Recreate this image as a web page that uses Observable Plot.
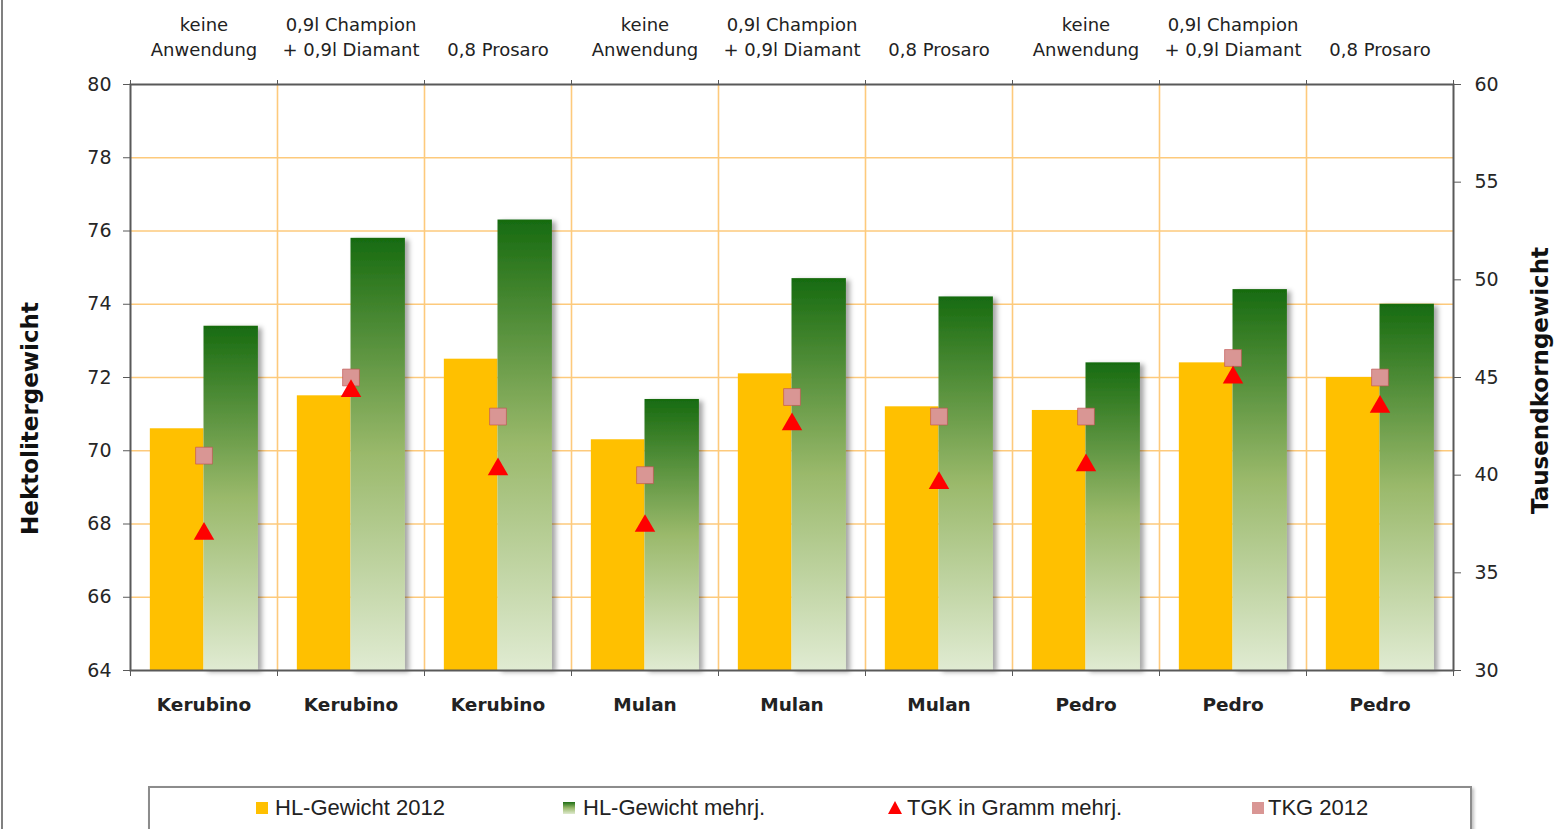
<!DOCTYPE html>
<html>
<head>
<meta charset="utf-8">
<script src="https://cdn.jsdelivr.net/npm/d3@7"></script>
<script src="https://cdn.jsdelivr.net/npm/@observablehq/plot@0.6"></script>
<style>
  html, body { margin: 0; padding: 0; background: #fff; }
  body { width: 1556px; height: 829px; overflow: hidden; position: relative; }
  #outer { position: absolute; left: 1px; top: 0; width: 2px; height: 829px; background: #808080; }
  #chart { position: absolute; left: 0; top: 0; }
  #legend { position: absolute; left: 148px; top: 786px; width: 1320px; height: 60px;
            border: 2px solid #8c8c8c; box-shadow: 2px 2px 3px rgba(0,0,0,0.25); background: #fff; }
  .item { position: absolute; top: 796px; height: 24px; line-height: 24px;
          font-family: "Liberation Sans", sans-serif; font-size: 22px; color: #222; white-space: nowrap; }
  .sw { position: absolute; top: 802px; width: 12px; height: 12px; }
</style>
</head>
<body>
<div id="outer"></div>
<div id="chart"></div>
<div id="legend"></div>
<div class="sw" style="left:256px;background:#ffc000"></div>
<div class="item" style="left:275px">HL-Gewicht 2012</div>
<div class="sw" style="left:563px;background:linear-gradient(#1e6e14,#9ab96b,#dfeacf)"></div>
<div class="item" style="left:583px">HL-Gewicht mehrj.</div>
<svg class="sw" style="left:888px;width:14px;height:13px;top:801px" viewBox="0 0 14 13"><polygon points="7,0 14,13 0,13" fill="#ff0000"/></svg>
<div class="item" style="left:907px">TGK in Gramm mehrj.</div>
<div class="sw" style="left:1252px;background:#d99694"></div>
<div class="item" style="left:1268px">TKG 2012</div>
<script>
// ---- data ----
const cultivars = ["Kerubino", "Kerubino", "Kerubino", "Mulan", "Mulan", "Mulan", "Pedro", "Pedro", "Pedro"];
const treatments = ["keine\nAnwendung", "0,9l Champion\n+ 0,9l Diamant", "0,8 Prosaro",
                    "keine\nAnwendung", "0,9l Champion\n+ 0,9l Diamant", "0,8 Prosaro",
                    "keine\nAnwendung", "0,9l Champion\n+ 0,9l Diamant", "0,8 Prosaro"];
const hl2012   = [70.6, 71.5, 72.5, 70.3, 72.1, 71.2, 71.1, 72.4, 72.0];   // HL-Gewicht 2012
const hlMehrj  = [73.4, 75.8, 76.3, 71.4, 74.7, 74.2, 72.4, 74.4, 74.0];   // HL-Gewicht mehrj.
const tgkMehrj = [37.0, 44.3, 40.3, 37.4, 42.6, 39.6, 40.5, 45.0, 43.5];   // TGK in Gramm mehrj.
const tkg2012  = [41.0, 45.0, 43.0, 40.0, 44.0, 43.0, 43.0, 46.0, 45.0];   // TKG 2012
const leftTicks  = [64, 66, 68, 70, 72, 74, 76, 78, 80];
const rightTicks = [30, 35, 40, 45, 50, 55, 60];

const rows = cultivars.map((c, i) => ({
  i, cultivar: c, treatment: treatments[i],
  hl2012: hl2012[i], hlMehrj: hlMehrj[i], tgk: tgkMehrj[i], tkg: tkg2012[i]
}));

// secondary axis (30..60) mapped onto primary (64..80)
const L0 = 64, L1 = 80, R0 = 30, R1 = 60;
const toLeft = v => L0 + (v - R0) * (L1 - L0) / (R1 - R0);
const toRight = v => R0 + (v - L0) * (R1 - R0) / (L1 - L0);

const gridColor = "#fdca7c";

const plot = Plot.plot({
  width: 1556, height: 770,
  marginLeft: 130, marginRight: 103, marginTop: 84, marginBottom: 100,
  style: { fontFamily: "DejaVu Sans", fontSize: "19px", color: "#262626", background: "transparent", overflow: "visible" },
  x: { domain: [0, cultivars.length], axis: null },
  y: { domain: [L0, L1], axis: null },
  marks: [
    Plot.ruleY(leftTicks.slice(1, -1), { stroke: gridColor, strokeWidth: 1.6 }),
    Plot.ruleX(d3.range(1, cultivars.length), { stroke: gridColor, strokeWidth: 1.6 }),
    Plot.rect(rows, { x1: d => d.i + 0.135, x2: d => d.i + 0.5, y1: L0, y2: "hl2012", fill: "#ffc000" }),
    Plot.rect(rows, { x1: d => d.i + 0.5, x2: d => d.i + 0.87, y1: L0, y2: "hlMehrj", fill: "url(#greenGrad)" }),
    Plot.dot(rows, { x: d => d.i + 0.5, y: d => toLeft(d.tkg), symbol: "square", r: 9.5,
                     fill: "#d99694", stroke: "#c0504d", strokeWidth: 1, strokeOpacity: 0.6 }),
    Plot.dot(rows, { x: d => d.i + 0.5, y: d => toLeft(d.tgk), symbol: "triangle", r: 7.6, fill: "#ff0000" }),
    Plot.frame({ stroke: "#595959", strokeWidth: 2 }),
    Plot.axisY({ anchor: "left", ticks: leftTicks, tickSize: 7, tickPadding: 12, label: null, stroke: "#595959", fontSize: 19 }),
    Plot.axisY({ anchor: "right", ticks: rightTicks.map(toLeft), tickFormat: d => Math.round(toRight(d)),
                 tickSize: 7, tickPadding: 14, label: null, stroke: "#595959", fontSize: 19 }),
    Plot.axisX({ anchor: "bottom", ticks: d3.range(0, cultivars.length + 1), tickFormat: () => "", tickSize: 6, label: null, stroke: "#595959" }),
    Plot.axisX({ anchor: "top", ticks: d3.range(0, cultivars.length + 1), tickFormat: () => "", tickSize: 5, label: null, stroke: "#595959" }),
    Plot.text(rows, { x: d => d.i + 0.5, y: L1, text: "treatment", lineAnchor: "bottom", dy: -29, fontSize: 18, lineHeight: 1.38, fill: "#222" }),
    Plot.text(rows, { x: d => d.i + 0.5, y: L0, text: "cultivar", dy: 35, fontSize: 18.5, fontWeight: "bold", fill: "#222" }),
    Plot.text(["Hektolitergewicht"], { frameAnchor: "left", textAnchor: "middle", text: d => d, rotate: -90, dx: -100, dy: 41, fontSize: 23, fontWeight: "bold", fill: "#111" }),
    Plot.text(["Tausendkorngewicht"], { frameAnchor: "right", textAnchor: "middle", text: d => d, rotate: -90, dx: 87, dy: 3, fontSize: 23, fontWeight: "bold", fill: "#111" })
  ]
});

// gradient + shadow definitions
const svg = d3.select(plot);
const defs = svg.insert("defs", ":first-child");
const g = defs.append("linearGradient").attr("id", "greenGrad").attr("x1", 0).attr("y1", 0).attr("x2", 0).attr("y2", 1);
g.append("stop").attr("offset", "0%").attr("stop-color", "#176b10");
g.append("stop").attr("offset", "50%").attr("stop-color", "#9ab96b");
g.append("stop").attr("offset", "100%").attr("stop-color", "#e0ebd2");
const f = defs.append("filter").attr("id", "shadow").attr("x", "-20%").attr("y", "-10%").attr("width", "150%").attr("height", "130%");
f.append("feDropShadow").attr("dx", 4).attr("dy", 2).attr("stdDeviation", 2.5).attr("flood-color", "#000").attr("flood-opacity", 0.35);
const rectGroups = plot.querySelectorAll('g[aria-label="rect"]');
if (rectGroups[1]) rectGroups[1].setAttribute("filter", "url(#shadow)");

document.getElementById("chart").appendChild(plot);
</script>
</body>
</html>
